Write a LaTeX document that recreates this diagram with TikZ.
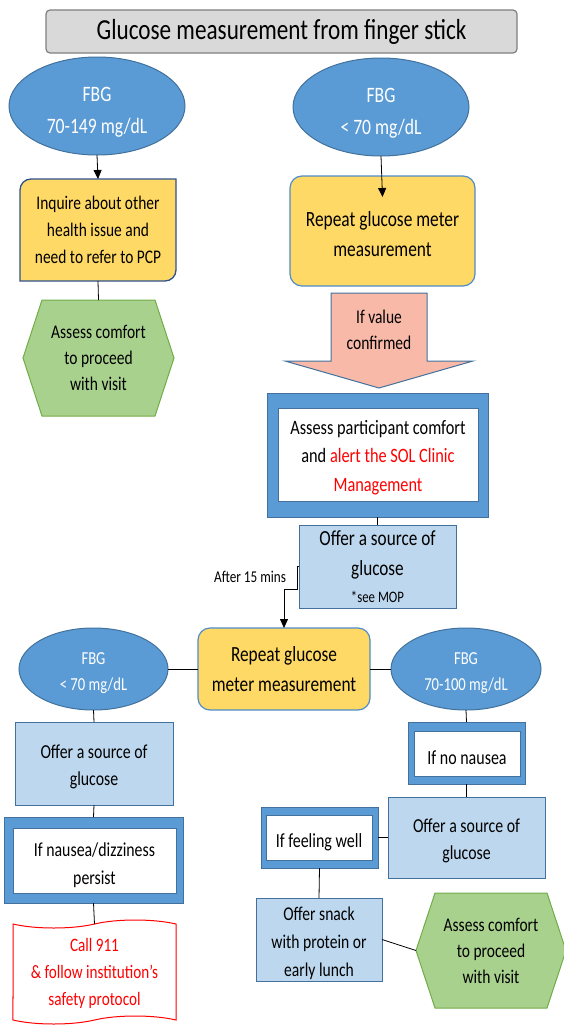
\documentclass[tikz,border=0pt]{standalone}
\usepackage{fontspec}
\setmainfont{Carlito}[FakeStretch=0.8]
\usetikzlibrary{shapes.geometric,shapes.symbols,arrows.meta,backgrounds}
\definecolor{ellf}{HTML}{5B9BD5}
\definecolor{ellb}{HTML}{41719C}
\definecolor{yel}{HTML}{FFD966}
\definecolor{navy}{HTML}{2F528F}
\definecolor{midb}{HTML}{4F8CC9}
\definecolor{lblue}{HTML}{BDD7EE}
\definecolor{grn}{HTML}{A9D18E}
\definecolor{grnb}{HTML}{70AD47}
\definecolor{salmon}{HTML}{F8B9A9}
\definecolor{ttlf}{HTML}{D9D9D9}
\definecolor{ttlb}{HTML}{7F7F7F}
\newcommand{\fsz}[2]{\fontsize{#1}{#2}\selectfont}
\newcommand{\dn}[1]{\rule{0pt}{\dimexpr0.76em+#1\relax}}
\begin{document}
\begin{tikzpicture}[x=1pt,y=-1pt,
  every node/.style={inner sep=0pt, outer sep=0pt, align=center},
  titlebox/.style={draw=ttlb, fill=ttlf, line width=1.2pt, rounded corners=4pt},
  ell/.style={ellipse, draw=ellb, fill=ellf, line width=1pt, text=white},
  yelbox/.style={draw=midb, fill=yel, line width=1.2pt, rounded corners=12pt},
  lbox/.style={draw=ellb, fill=lblue, line width=1pt},
  frameout/.style={draw=ellb, fill=ellf, line width=1pt},
  framein/.style={draw=ellb, fill=white, line width=0.8pt},
  hexs/.style={draw=grnb, fill=grn, line width=1pt},
  conn/.style={draw=black, line width=0.8pt},
  arr/.style={conn, -{Triangle[width=8pt,length=9pt]}},
]
\useasboundingbox (0,0) rectangle (564,1028);

% title
\node[titlebox, minimum width=471pt, minimum height=43pt, font=\fsz{29}{32}] (title) at (281.5,31.5)
  {Glucose measurement from finger stick};

% top row ellipses
\node[ell, minimum width=176pt, minimum height=98pt, font=\fsz{22}{32}] (e1) at (97,106)
  {\dn{10pt}FBG\\70-149 mg/dL};
\node[ell, minimum width=176pt, minimum height=98pt, font=\fsz{22}{32}] (e2) at (381,107)
  {\dn{10pt}FBG\\< 70 mg/dL};

% inquire box (round-diagonal corners)
\node[minimum width=156pt, minimum height=102pt, font=\fsz{19.3}{26.7}] (b1) at (98,230)
  {Inquire about other\\health issue and\\need to refer to PCP};
% repeat box
\node[yelbox, minimum width=185pt, minimum height=110pt] (b2) at (382.5,231) {};
\node[font=\fsz{21.7}{30}] (b2t) at (382.5,234) {Repeat glucose meter\\measurement};

% left hexagon
\node[minimum width=151pt, minimum height=116pt, font=\fsz{19.4}{26}] (h1) at (98.5,358)
  {Assess comfort\\to proceed\\with visit};

% block arrow text
\node[font=\fsz{19.4}{26}] (va) at (379,330) {If value\\confirmed};

% assess participant double box
\node[frameout, minimum width=221pt, minimum height=124pt] (a3o) at (377.5,455) {};
\node[framein, minimum width=200pt, minimum height=93pt, font=\fsz{20.4}{28.5}] (a3) at (378,454.5)
  {\dn{4pt}Assess participant comfort\\and {\color{red}alert the SOL Clinic}\\{\color{red}Management}};

% offer source (center)
\node[lbox, minimum width=157pt, minimum height=83pt, font=\fsz{21.5}{30}] (o2) at (377.5,566.5)
  {Offer a source of\\glucose\\[-3pt]{\fsz{16}{22}*see MOP}};

\node[anchor=east, font=\fsz{16.5}{20}] (lbl) at (286,577) {After 15 mins};

% second repeat
\node[yelbox, minimum width=172pt, minimum height=82pt, font=\fsz{21.6}{30}] (r2) at (284,669)
  {Repeat glucose\\meter measurement};
\node[ell, minimum width=149pt, minimum height=82pt, font=\fsz{18.3}{26}] (e3) at (93.5,669)
  {\dn{6pt}FBG\\< 70 mg/dL};
\node[ell, minimum width=150pt, minimum height=82pt, font=\fsz{18.3}{26}] (e4) at (466,669)
  {\dn{6pt}FBG\\70-100 mg/dL};

% left column
\node[lbox, minimum width=158pt, minimum height=83pt, font=\fsz{19.8}{27}] (o3) at (94,763.5)
  {\dn{6pt}Offer a source of\\glucose};
\node[frameout, minimum width=179pt, minimum height=86pt] (n1o) at (93.5,860) {};
\node[framein, minimum width=163pt, minimum height=65pt, font=\fsz{19.8}{28}] (n1) at (94.5,860.5)
  {\dn{8pt}If nausea/dizziness\\persist};
\node[tape, draw=red, fill=white, line width=1pt, minimum width=163pt, minimum height=104pt,
  tape bend height=8pt, text=red, font=\fsz{19}{27}] (c911) at (94.5,972)
  {\dn{2pt}Call 911\\\& follow institution’s\\safety protocol};

% right column
\node[frameout, minimum width=117pt, minimum height=62pt] (nno) at (466.5,753) {};
\node[framein, minimum width=106pt, minimum height=45pt, font=\fsz{20}{26}] (nn) at (467,753.5)
  {\dn{6pt}If no nausea};
\node[lbox, minimum width=157pt, minimum height=81pt, font=\fsz{19.8}{27}] (o4) at (466.5,837.5)
  {\dn{6pt}Offer a source of\\glucose};
\node[frameout, minimum width=117pt, minimum height=61pt] (fwo) at (319.5,837.5) {};
\node[framein, minimum width=106pt, minimum height=45pt, font=\fsz{20}{26}] (fw) at (319,837.5)
  {\dn{8pt}If feeling well};
\node[lbox, minimum width=126pt, minimum height=83pt, font=\fsz{19.5}{28}] (sn) at (319,939.5)
  {\dn{6pt}Offer snack\\with protein or\\early lunch};
\node[minimum width=150pt, minimum height=115pt, font=\fsz{19.4}{26}] (h2) at (491,950.5)
  {Assess comfort\\to proceed\\with visit};

% backgrounds: custom shapes
\begin{scope}[on background layer]
  \filldraw[fill=yel, draw=navy, line width=1.3pt]
    (b1.west) -- ([yshift=-11pt]b1.north west) to[out=90,in=180] ([xshift=11pt]b1.north west)
    -- (b1.north east) -- ([yshift=11pt]b1.south east) to[out=-90,in=0] ([xshift=-11pt]b1.south east)
    -- (b1.south west) -- cycle;
  \filldraw[hexs] (h1.west) -- ([xshift=19pt]h1.north west) -- ([xshift=-19pt]h1.north east)
    -- (h1.east) -- ([xshift=-19pt]h1.south east) -- ([xshift=19pt]h1.south west) -- cycle;
  \filldraw[hexs] (h2.west) -- ([xshift=19pt]h2.north west) -- ([xshift=-19pt]h2.north east)
    -- (h2.east) -- ([xshift=-19pt]h2.south east) -- ([xshift=19pt]h2.south west) -- cycle;
  \filldraw[fill=salmon, draw=ellb, line width=1pt]
    (331,293) -- (427,293) -- (427,361) -- (473,361) -- (379,388) -- (285,361) -- (331,361) -- cycle;
\end{scope}

% connectors
\draw[arr] (e1.south) -- (b1.north);
\draw[arr] (e2.south) -- ([yshift=-21pt]b2.north);
\draw[conn] (b1.south) -- (h1.north);
\draw[conn] (a3o.south) -- (o2.north);
\draw[arr] (o2.west) -- ++(-2,0) -- ++(0,23) -| (r2.north);
\draw[conn] (e3.east) -- (r2.west);
\draw[conn] (r2.east) -- (e4.west);
\draw[conn] (e3.south) -- (o3.north);
\draw[conn] (o3.south) -- (n1o.north);
\draw[conn] (n1o.south) -- (c911.north);
\draw[conn] (e4.south) -- (nno.north);
\draw[conn] (nno.south) -- (o4.north);
\draw[conn] (o4.west) -- (fwo.east);
\draw[conn] (fwo.south) -- (sn.north);
\draw[conn] (sn.east) -- (h2.west);
\end{tikzpicture}
\end{document}
